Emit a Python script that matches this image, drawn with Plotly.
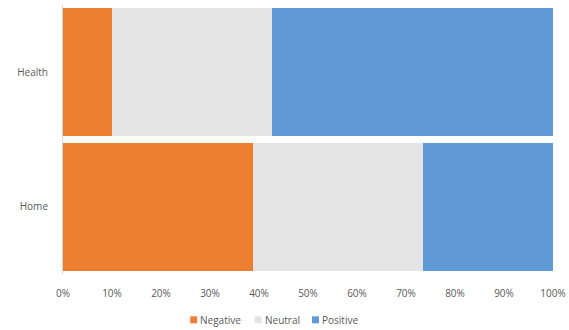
import plotly.graph_objects as go

categories = ["Health", "Home"]
negative = [10.0, 38.7]
neutral = [32.7, 34.7]
positive = [57.3, 26.6]
x_ticks = [0, 10, 20, 30, 40, 50, 60, 70, 80, 90, 100]
x_tick_labels = [f"{v}%" for v in x_ticks]

series_names = ["Negative", "Neutral", "Positive"]
series_colors = ["#ED7D31", "#E4E4E4", "#5F99D6"]
series_values = [negative, neutral, positive]

W, H = 569, 330
ML, MR, MT, MB = 62.5, 15.5, 4.5, 55.5
PW, PH = W - ML - MR, H - MT - MB

def px_x(p):
    return (p - ML) / PW

def px_y(p):
    return (H - MB - p) / PH

fig = go.Figure()
for name, vals, color in zip(series_names, series_values, series_colors):
    fig.add_trace(go.Bar(
        y=categories, x=vals, name=name, orientation="h",
        marker=dict(color=color, line=dict(width=0)),
        hoverinfo="x+y+name", showlegend=False,
    ))

# custom compact legend (Excel-like)
legend_sq_left = [190, 254.5, 312]
shapes, annotations = [], []
for name, color, left in zip(series_names, series_colors, legend_sq_left):
    shapes.append(dict(type="rect", xref="paper", yref="paper",
                       x0=px_x(left), x1=px_x(left + 7), y0=px_y(324), y1=px_y(317),
                       fillcolor=color, line=dict(width=0)))
    annotations.append(dict(xref="paper", yref="paper", x=px_x(left + 8), y=px_y(321),
                            xanchor="left", yanchor="middle", text=name, showarrow=False,
                            font=dict(size=10, color="#595959")))

fig.update_layout(
    width=W, height=H,
    barmode="stack", bargap=0.05,
    margin=dict(l=ML, r=MR, t=MT, b=MB),
    paper_bgcolor="white", plot_bgcolor="white",
    font=dict(family="Open Sans, Liberation Sans, sans-serif", size=10, color="#595959"),
    showlegend=False,
    shapes=shapes, annotations=annotations,
    xaxis=dict(range=[0, 100], tickvals=x_ticks, ticktext=x_tick_labels,
               showgrid=False, zeroline=False, showline=False, ticks="",
               ticklabelstandoff=12, fixedrange=True),
    yaxis=dict(categoryorder="array", categoryarray=["Home", "Health"],
               showgrid=False, zeroline=False, showline=True, linecolor="#D9D9D9",
               linewidth=1, ticks="", ticklabelstandoff=12, fixedrange=True),
)

fig.write_html("out.html")
